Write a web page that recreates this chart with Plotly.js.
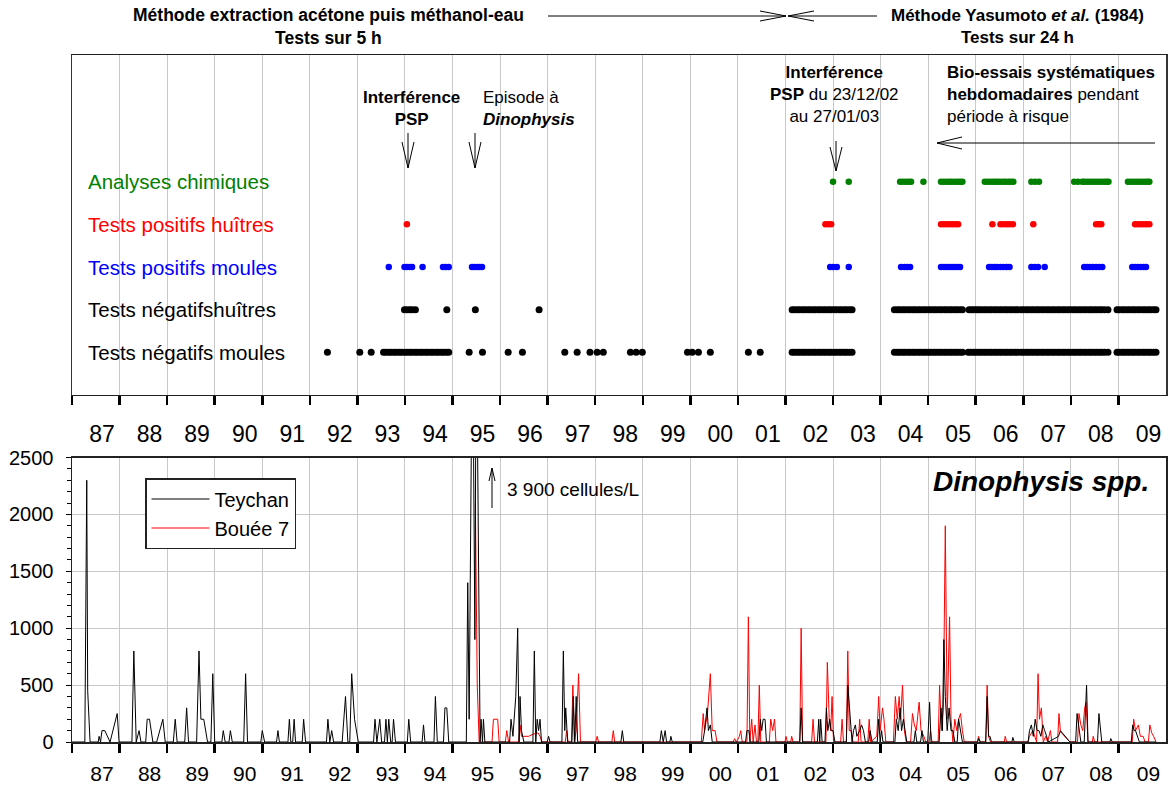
<!DOCTYPE html>
<html>
<head>
<meta charset="utf-8">
<script src="https://cdn.plot.ly/plotly-3.0.1.min.js"></script>
<style>html,body{margin:0;padding:0;background:#fff;}#chart{width:1172px;height:787px;}</style>
</head>
<body>
<div id="chart"></div>
<script>
// ---------- DATA ----------
const years = [1987,1988,1989,1990,1991,1992,1993,1994,1995,1996,1997,1998,1999,2000,2001,2002,2003,2004,2005,2006,2007,2008,2009];
const yearLabels = ["87","88","89","90","91","92","93","94","95","96","97","98","99","00","01","02","03","04","05","06","07","08","09"];

const rowLabels = ["Analyses chimiques","Tests positifs huîtres","Tests positifs moules","Tests négatifshuîtres","Tests négatifs moules"];
const rowColors = ["#008000","#ff0000","#0000ff","#000000","#000000"];
const rowLevels = [5,4,3,2,1];

const chimiques = [2003.00,2003.33,2004.41,2004.47,2004.53,2004.59,2004.64,2004.90,2005.27,2005.33,2005.39,2005.45,2005.50,2005.56,2005.62,2005.67,2005.72,
  2006.19,2006.25,2006.31,2006.37,2006.42,2006.47,2006.52,2006.58,2006.63,2006.69,2006.74,2006.79,2007.17,2007.25,2007.33,
  2008.07,2008.15,2008.24,2008.28,2008.34,2008.40,2008.46,2008.52,2008.58,2008.64,2008.70,2008.75,2008.79,
  2009.20,2009.26,2009.32,2009.38,2009.44,2009.50,2009.56,2009.61,2009.65];
const posHuitres = [1994.04,2002.84,2002.90,2002.96,2005.27,2005.33,2005.39,2005.45,2005.51,2005.57,2005.63,2006.35,
  2006.52,2006.58,2006.65,2006.71,2006.78,2007.21,2008.53,2008.59,2008.64,2009.35,2009.41,2009.47,2009.53,2009.59,2009.65];
const posMoules = [1993.66,1993.99,1994.04,1994.10,1994.15,1994.37,1994.80,1994.86,1994.92,1995.41,1995.46,1995.52,1995.57,1995.62,
  2002.94,2003.00,2003.08,2003.33,2004.43,2004.50,2004.56,2004.62,2005.27,2005.33,2005.38,2005.44,2005.50,2005.55,2005.61,2005.67,
  2006.28,2006.34,2006.40,2006.45,2006.52,2006.58,2006.65,2006.71,2007.17,2007.24,2007.31,2007.45,
  2008.28,2008.34,2008.40,2008.46,2008.53,2008.60,2008.66,2009.29,2009.35,2009.41,2009.47,2009.53,2009.58];
const negHuitres = [1993.99,1994.04,1994.10,1994.15,1994.22,1994.88,1995.48,1996.82,
  2002.14,2002.19,2002.25,2002.30,2002.36,2002.41,2002.47,2002.52,2002.58,2002.63,2002.69,2002.74,2002.80,2002.85,2002.91,2002.96,2003.02,2003.07,2003.13,2003.18,2003.24,2003.29,2003.35,2003.40,
  2004.29,2004.35,2004.40,2004.46,2004.51,2004.57,2004.62,2004.68,2004.73,2004.79,2004.84,2004.90,2004.95,2005.01,2005.06,2005.12,2005.17,2005.23,2005.28,2005.34,2005.39,2005.45,2005.50,2005.56,2005.61,2005.67,2005.72,
  2005.86,2005.91,2005.96,2006.01,2006.06,2006.11,2006.17,2006.22,2006.28,2006.33,2006.39,2006.44,2006.50,2006.55,2006.61,2006.66,2006.72,2006.77,2006.83,2006.88,2006.95,
  2007.00,2007.06,2007.11,2007.17,2007.22,2007.28,2007.33,2007.39,2007.44,2007.50,2007.55,2007.61,2007.66,2007.72,2007.77,2007.83,2007.88,2007.94,2007.99,2008.05,2008.10,2008.16,2008.21,2008.27,2008.32,2008.38,2008.43,2008.49,2008.54,2008.60,2008.65,2008.71,2008.78,
  2008.97,2009.02,2009.08,2009.13,2009.19,2009.24,2009.30,2009.35,2009.41,2009.46,2009.52,2009.57,2009.63,2009.68,2009.74,2009.79];
const negMoules = [1992.37,1993.05,1993.29,
  1993.55,1993.60,1993.66,1993.71,1993.77,1993.82,1993.88,1993.93,1993.99,1994.04,1994.10,1994.15,1994.21,1994.26,1994.32,1994.37,1994.43,1994.48,1994.54,1994.59,1994.65,1994.70,1994.76,1994.81,1994.87,1994.92,
  1995.35,1995.63,1996.17,1996.47,1997.36,1997.62,1997.89,1998.04,1998.17,1998.74,1998.86,1998.99,1999.94,2000.04,2000.17,2000.42,2001.22,2001.47,
  2002.14,2002.19,2002.25,2002.30,2002.36,2002.41,2002.47,2002.52,2002.58,2002.63,2002.69,2002.74,2002.80,2002.85,2002.91,2002.96,2003.02,2003.07,2003.13,2003.18,2003.24,2003.29,2003.35,2003.40,
  2004.29,2004.35,2004.40,2004.46,2004.51,2004.57,2004.62,2004.68,2004.73,2004.79,2004.84,2004.90,2004.95,2005.01,2005.06,2005.12,2005.17,2005.23,2005.28,2005.34,2005.39,2005.45,2005.50,2005.56,2005.61,2005.67,2005.72,
  2005.84,2005.89,2005.95,2006.00,2006.06,2006.11,2006.17,2006.22,2006.28,2006.33,2006.39,2006.44,2006.50,2006.55,2006.61,2006.66,2006.72,2006.77,2006.83,2006.88,2006.95,
  2007.00,2007.06,2007.11,2007.17,2007.22,2007.28,2007.33,2007.39,2007.44,2007.50,2007.55,2007.61,2007.66,2007.72,2007.77,2007.83,2007.88,2007.94,2007.99,2008.05,2008.10,2008.16,2008.21,2008.27,2008.32,2008.38,2008.43,2008.49,2008.54,2008.60,2008.65,2008.71,2008.78,
  2008.97,2009.02,2009.08,2009.13,2009.19,2009.24,2009.30,2009.35,2009.41,2009.46,2009.52,2009.57,2009.63,2009.68,2009.74,2009.79];

const teychanDate = [1987.00,1987.27,1987.31,1987.33,1987.38,1987.55,1987.57,1987.60,1987.63,1987.69,1987.80,1987.95,1987.99,
  1988.26,1988.30,1988.35,1988.41,1988.45,1988.55,1988.58,1988.63,1988.70,1988.78,1988.91,1988.96,
  1989.13,1989.17,1989.21,1989.37,1989.41,1989.45,1989.62,1989.67,1989.71,1989.77,1989.85,1989.92,1989.96,
  1990.00,1990.15,1990.18,1990.22,1990.30,1990.33,1990.37,1990.61,1990.65,1990.69,1990.97,
  1991.00,1991.05,1991.30,1991.33,1991.36,1991.54,1991.57,1991.60,1991.64,1991.67,1991.70,1991.84,1991.87,1991.91,
  1992.35,1992.38,1992.42,1992.46,1992.50,1992.68,1992.75,1992.80,1992.84,1992.88,1992.94,
  1993.02,1993.34,1993.37,1993.41,1993.47,1993.51,1993.57,1993.60,1993.63,1993.66,1993.70,1993.73,1993.76,1993.80,
  1994.05,1994.08,1994.12,1994.36,1994.39,1994.42,1994.61,1994.64,1994.68,1994.81,1994.84,1994.88,1994.92,
  1995.29,1995.32,1995.35,1995.42,1995.47,1995.50,1995.58,1995.60,1995.63,1995.65,1995.68,
  1996.20,1996.23,1996.27,1996.33,1996.37,1996.40,1996.42,1996.45,1996.50,1996.69,1996.72,1996.75,1996.78,1996.81,1996.84,1996.87,1996.99,
  1997.02,1997.05,1997.30,1997.33,1997.36,1997.38,1997.42,1997.51,1997.54,1997.57,1997.60,1997.63,
  1998.54,1998.57,1998.60,1999.36,1999.39,1999.43,1999.47,1999.50,1999.57,1999.59,1999.62,
  2000.26,2000.30,2000.35,2000.38,2000.42,2000.46,
  2001.16,2001.19,2001.23,2001.26,2001.44,2001.47,2001.50,2001.53,2001.57,2001.60,
  2002.30,2002.33,2002.36,2002.67,2002.70,2002.72,2002.74,2002.77,2002.83,2002.86,2002.89,2002.93,2002.96,
  2003.00,2003.04,2003.28,2003.31,2003.34,2003.37,2003.40,2003.43,2003.47,2003.50,2003.56,2003.60,2003.64,2003.68,2003.75,2003.78,2003.82,2003.93,2003.96,2003.99,
  2004.02,2004.05,2004.30,2004.33,2004.37,2004.41,2004.44,2004.48,2004.52,2004.55,2004.70,2004.73,2004.76,2004.84,2004.87,2004.90,2004.99,
  2005.03,2005.06,2005.23,2005.27,2005.30,2005.33,2005.36,2005.40,2005.44,2005.48,2005.52,2005.56,2005.61,2005.64,2005.68,2005.72,
  2006.04,2006.06,2006.10,2006.21,2006.24,2006.27,2006.30,2006.33,2006.76,2006.78,2006.81,
  2007.10,2007.13,2007.17,2007.21,2007.25,2007.29,2007.33,2007.37,2007.41,2007.45,2007.49,2007.53,2007.74,2007.78,2007.98,
  2008.10,2008.13,2008.17,2008.21,2008.28,2008.31,2008.33,2008.36,2008.56,2008.59,2008.62,2008.65,2008.82,2008.84,2008.87,
  2009.27,2009.30,2009.33,2009.36,2009.40,2009.44,2009.79];
const teychanCells = [0,0,2300,450,0,0,50,0,100,100,0,250,0,
  0,800,0,100,0,0,200,200,0,0,200,0,
  0,200,0,0,300,0,0,800,200,200,0,0,600,
  0,0,100,0,0,100,0,0,600,0,0,
  100,0,0,100,0,0,200,0,0,200,0,0,200,0,
  0,200,0,100,0,0,400,0,0,600,200,
  0,0,200,0,200,0,0,200,0,200,0,0,200,0,
  0,200,0,0,150,0,0,400,0,0,300,300,0,
  0,1400,200,3900,900,3900,0,200,0,200,0,
  0,200,50,400,1000,0,400,100,0,0,800,0,200,100,200,0,0,
  50,0,0,800,100,300,0,0,400,0,400,0,
  0,100,0,0,100,0,100,0,0,50,0,
  0,100,300,100,150,0,
  0,100,100,0,0,200,100,200,200,0,
  0,300,0,0,200,0,200,0,0,300,100,200,100,
  100,0,0,500,300,100,0,100,150,50,100,150,100,0,0,100,0,0,200,0,
  100,0,0,200,100,300,100,200,100,0,0,100,0,0,100,0,0,
  350,0,0,300,100,900,400,100,300,100,100,0,0,200,100,0,
  0,30,0,0,400,50,50,0,0,40,0,
  0,100,150,50,200,100,100,50,150,100,50,0,50,100,0,
  0,250,100,0,0,300,500,0,0,250,100,0,0,30,0,
  0,150,100,100,50,0,0];

const boueeDate = [1995.48,1995.52,1995.56,1995.83,1995.86,1995.95,1995.98,
  1996.11,1996.14,1996.18,1996.39,1996.42,1996.45,1996.52,1996.60,1996.70,1996.80,1996.84,1996.88,
  1997.37,1997.40,1997.43,1997.50,1997.53,1997.56,1997.60,1997.65,1997.69,
  1998.01,1998.04,1998.07,1998.35,1998.38,1998.41,
  2000.23,2000.27,2000.30,2000.36,2000.42,2000.46,2000.52,2000.56,2000.90,2000.93,2000.97,
  2001.03,2001.06,2001.09,2001.19,2001.22,2001.25,2001.29,2001.32,2001.36,2001.39,2001.42,2001.45,2001.48,2001.66,2001.69,2001.73,2001.77,2001.80,2001.99,
  2002.01,2002.04,2002.11,2002.13,2002.16,2002.30,2002.33,2002.36,2002.55,2002.58,2002.61,2002.85,2002.88,2002.92,2002.95,2002.98,
  2003.01,2003.16,2003.19,2003.22,2003.28,2003.31,2003.34,2003.38,2003.42,2003.53,2003.56,2003.59,2003.73,2003.76,2003.79,2003.92,2003.96,2003.99,
  2004.04,2004.07,2004.11,2004.27,2004.31,2004.35,2004.39,2004.42,2004.46,2004.50,2004.54,2004.63,2004.67,2004.71,2004.75,2004.81,2004.85,2004.91,2004.95,
  2005.02,2005.05,2005.08,2005.21,2005.24,2005.28,2005.32,2005.36,2005.40,2005.45,2005.48,2005.52,2005.56,2005.60,2005.64,2005.68,2005.72,2005.76,
  2006.03,2006.06,2006.09,2006.21,2006.24,2006.27,2006.31,2006.60,2006.62,2006.65,
  2007.10,2007.13,2007.20,2007.24,2007.28,2007.31,2007.34,2007.38,2007.42,2007.47,2007.51,2007.57,2007.60,2007.72,2007.75,2007.78,2007.98,
  2008.14,2008.17,2008.21,2008.25,2008.29,2008.32,2008.36,2008.45,2008.47,2008.50,
  2009.29,2009.32,2009.36,2009.42,2009.46,2009.52,2009.56,2009.63,2009.66,2009.70,2009.74,2009.79];
const boueeCells = [2100,500,0,0,200,200,0,
  0,100,0,0,150,50,50,50,70,80,50,0,
  0,100,0,0,500,0,100,600,0,
  0,50,0,0,100,0,
  0,250,100,250,600,100,100,0,0,30,0,
  50,100,0,0,1100,0,200,0,150,0,0,500,0,0,200,100,200,0,0,
  50,0,0,50,0,0,1000,0,0,200,0,0,700,200,100,400,
  0,0,200,0,0,800,100,100,0,0,200,0,0,200,0,50,400,100,
  300,200,0,0,400,200,400,200,500,100,0,0,250,150,100,350,100,50,0,
  0,100,0,0,500,100,300,1900,200,1100,200,0,200,100,200,250,100,0,
  0,50,0,0,500,50,0,0,50,0,
  0,50,100,50,0,600,200,300,0,50,0,100,0,0,250,90,0,
  0,250,150,100,300,350,0,0,50,0,
  0,200,100,150,50,50,0,0,150,80,50,0];

// ---------- LAYOUT HELPERS ----------
const L = 72, R = 6, T = 55, B = 45, W = 1172, H = 787;
const PW = W - L - R, PH = H - T - B;
const px = x => (x - L) / PW;
const py = y => (H - B - y) / PH;
const FONT = "Arial, 'Liberation Sans', sans-serif";

const shapes = [];
function seg(x0, y0, x1, y1) {
  shapes.push({type: 'line', xref: 'paper', yref: 'paper', x0: px(x0), y0: py(y0), x1: px(x1), y1: py(y1),
    line: {color: '#000', width: 1}});
}
function vhead(tx, ty, bx1, by1, bx2, by2) {
  shapes.push({type: 'path', xref: 'paper', yref: 'paper',
    path: `M${px(bx1)},${py(by1)} L${px(tx)},${py(ty)} L${px(bx2)},${py(by2)}`,
    line: {color: '#000', width: 1}});
}
// header arrows
seg(548, 16, 786, 16); vhead(786, 16, 760, 11, 760, 21);
seg(877, 16, 788, 16); vhead(788, 16, 814, 11, 814, 21);
// PSP & Dinophysis arrows
seg(408, 133, 408, 168); vhead(408, 168, 402, 142, 414, 142);
seg(475, 133, 475, 168); vhead(475, 168, 469, 142, 481, 142);
// 2002 arrow
seg(836, 141, 836, 171); vhead(836, 171, 830, 147, 842, 147);
// bio-essais arrow
seg(1155, 143, 937, 143); vhead(937, 143, 962, 137, 962, 149);
// 3900 arrow
seg(492, 508, 492, 468); vhead(492, 468, 489, 481, 495, 481);

const annotations = [];
function txt(x, y, text, size, anchor, opts) {
  annotations.push(Object.assign({xref: 'paper', yref: 'paper', x: px(x), y: py(y), text: text, showarrow: false,
    xanchor: anchor, yanchor: 'middle', font: {family: FONT, size: size, color: '#000'}}, opts || {}));
}
txt(328, 27, "<b>Méthode extraction acétone puis méthanol-eau</b><br><b>Tests sur 5 h</b>", 17.5, 'center');
txt(1017, 27, "<b>Méthode Yasumoto <i>et al.</i> (1984)</b><br><b>Tests sur 24 h</b>", 17, 'center');
txt(411, 109, "<b>Interférence</b><br><b>PSP</b>", 17, 'center');
txt(481, 108, "Episode à<br><b><i>Dinophysis</i></b>", 17, 'left', {align: 'left'});
txt(834, 95, "<b>Interférence</b><br><b>PSP</b> du 23/12/02<br>au 27/01/03", 17, 'center');
txt(945, 95, "<b>Bio-essais systématiques</b><br><b>hebdomadaires</b> pendant<br>période à risque", 17, 'left', {align: 'left'});
txt(505, 489, "3 900 cellules/L", 19, 'left');
txt(1151, 482, "<b><i>Dinophysis spp.</i></b>", 28, 'right');
rowLabels.forEach((lab, i) => {
  annotations.push({xref: 'paper', yref: 'y2', x: px(86), y: rowLevels[i], text: lab, showarrow: false,
    xanchor: 'left', yanchor: 'middle', font: {family: FONT, size: 20.5, color: rowColors[i]}});
});

// ---------- TRACES ----------
const rowDates = [chimiques, posHuitres, posMoules, negHuitres, negMoules];
const traces = rowDates.map((d, i) => ({
  type: 'scatter', mode: 'markers', x: d, y: d.map(() => rowLevels[i]), xaxis: 'x2', yaxis: 'y2',
  marker: {color: rowColors[i], size: i < 3 ? 6.5 : 7, line: {width: 0}}, showlegend: false, hoverinfo: 'skip'
}));
traces.push({type: 'scatter', mode: 'lines', name: 'Bouée 7', x: boueeDate, y: boueeCells, xaxis: 'x', yaxis: 'y',
  line: {color: '#ff0000', width: 1}});
traces.push({type: 'scatter', mode: 'lines', name: 'Teychan', x: teychanDate, y: teychanCells, xaxis: 'x', yaxis: 'y',
  line: {color: '#000000', width: 1}});

const xCommon = {
  range: [1987, 2010], tickmode: 'array', tickvals: years, ticktext: yearLabels,
  ticks: 'outside', ticklen: 9, tickwidth: 2.5, tickcolor: '#000', ticklabelshift: 30,
  showgrid: true, gridcolor: '#c8c8c8', gridwidth: 1, zeroline: false,
  showline: true, linecolor: '#222', linewidth: 1.5, mirror: true, fixedrange: true
};

const layout = {
  width: W, height: H, margin: {l: L, r: R, t: T, b: B}, paper_bgcolor: '#fff', plot_bgcolor: '#fff',
  font: {family: FONT, color: '#000'}, hovermode: false, showlegend: true,
  xaxis: Object.assign({}, xCommon, {anchor: 'y', ticklabelstandoff: 3,
    tickfont: {family: FONT, size: 21, color: '#000'}}),
  xaxis2: Object.assign({}, xCommon, {anchor: 'y2', ticklabelstandoff: 9,
    tickfont: {family: FONT, size: 23, color: '#000'}}),
  yaxis: {domain: [0, 0.4141], range: [0, 2500], tickvals: [0, 500, 1000, 1500, 2000, 2500],
    ticks: 'outside', ticklen: 5, tickcolor: '#000', ticklabelstandoff: 8,
    minor: {dtick: 100, ticks: 'outside', ticklen: 4, tickcolor: '#000', showgrid: false},
    tickfont: {family: FONT, size: 20, color: '#000'},
    showgrid: true, gridcolor: '#c8c8c8', zeroline: false,
    showline: true, linecolor: '#222', linewidth: 1.5, mirror: true, fixedrange: true},
  yaxis2: {domain: [0.5051, 1], range: [0, 7.97], showticklabels: false, ticks: '', showgrid: false, zeroline: false,
    showline: true, linecolor: '#333', linewidth: 1.5, mirror: true, fixedrange: true},
  legend: {x: px(145), y: py(478), xanchor: 'left', yanchor: 'top', traceorder: 'reversed',
    bgcolor: '#fff', bordercolor: '#222', borderwidth: 1.5, itemwidth: 58,
    font: {family: FONT, size: 20, color: '#000'}},
  shapes: shapes, annotations: annotations
};

Plotly.newPlot('chart', traces, layout, {displayModeBar: false, staticPlot: true});
</script>
</body>
</html>
